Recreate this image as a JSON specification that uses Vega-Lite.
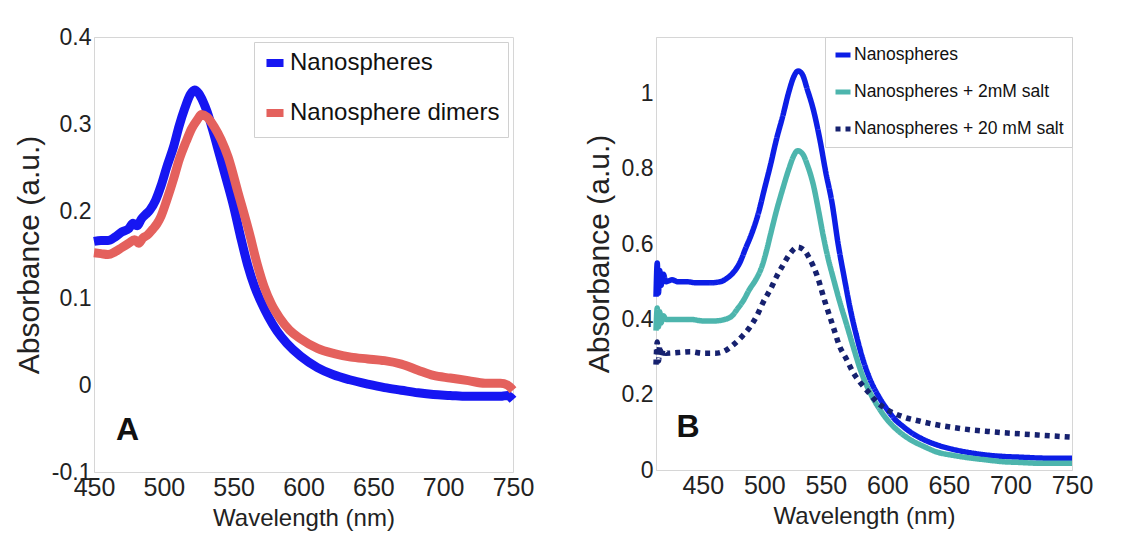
{
  "$schema": "https://vega.github.io/schema/vega-lite/v6.json",
  "background": "white",
  "padding": {"left": 13, "top": 25, "right": 5, "bottom": 5},
  "config": {
    "font": "Liberation Sans, sans-serif",
    "view": {"stroke": "#d6d6d6"},
    "axis": {
      "grid": false, "ticks": false, "domainColor": "#d6d6d6",
      "labelColor": "#222", "titleColor": "#222",
      "labelFont": "Liberation Sans, sans-serif",
      "titleFont": "Liberation Sans, sans-serif",
      "titleFontWeight": "normal", "labelOverlap": false, "labelPadding": 3, "labelFlush": false
    },
    "legend": {
      "labelFont": "Liberation Sans, sans-serif",
      "labelColor": "#111", "fillColor": "white", "strokeColor": "#d0d0d0",
      "symbolType": "stroke", "labelLimit": 500, "cornerRadius": 0
    }
  },
  "datasets": {
    "a": [
      {"nm": 450, "v": 0.165, "series": "Nanospheres"},
      {"nm": 455, "v": 0.166, "series": "Nanospheres"},
      {"nm": 460, "v": 0.166, "series": "Nanospheres"},
      {"nm": 465, "v": 0.170, "series": "Nanospheres"},
      {"nm": 470, "v": 0.176, "series": "Nanospheres"},
      {"nm": 475, "v": 0.180, "series": "Nanospheres"},
      {"nm": 478, "v": 0.186, "series": "Nanospheres"},
      {"nm": 481, "v": 0.183, "series": "Nanospheres"},
      {"nm": 484, "v": 0.191, "series": "Nanospheres"},
      {"nm": 487, "v": 0.196, "series": "Nanospheres"},
      {"nm": 490, "v": 0.201, "series": "Nanospheres"},
      {"nm": 494, "v": 0.212, "series": "Nanospheres"},
      {"nm": 498, "v": 0.229, "series": "Nanospheres"},
      {"nm": 502, "v": 0.250, "series": "Nanospheres"},
      {"nm": 507, "v": 0.274, "series": "Nanospheres"},
      {"nm": 511, "v": 0.298, "series": "Nanospheres"},
      {"nm": 515, "v": 0.318, "series": "Nanospheres"},
      {"nm": 519, "v": 0.334, "series": "Nanospheres"},
      {"nm": 522, "v": 0.339, "series": "Nanospheres"},
      {"nm": 525, "v": 0.335, "series": "Nanospheres"},
      {"nm": 528, "v": 0.326, "series": "Nanospheres"},
      {"nm": 531, "v": 0.314, "series": "Nanospheres"},
      {"nm": 535, "v": 0.293, "series": "Nanospheres"},
      {"nm": 540, "v": 0.264, "series": "Nanospheres"},
      {"nm": 545, "v": 0.235, "series": "Nanospheres"},
      {"nm": 550, "v": 0.205, "series": "Nanospheres"},
      {"nm": 555, "v": 0.170, "series": "Nanospheres"},
      {"nm": 560, "v": 0.138, "series": "Nanospheres"},
      {"nm": 565, "v": 0.113, "series": "Nanospheres"},
      {"nm": 570, "v": 0.094, "series": "Nanospheres"},
      {"nm": 575, "v": 0.078, "series": "Nanospheres"},
      {"nm": 581, "v": 0.062, "series": "Nanospheres"},
      {"nm": 588, "v": 0.048, "series": "Nanospheres"},
      {"nm": 598, "v": 0.033, "series": "Nanospheres"},
      {"nm": 610, "v": 0.020, "series": "Nanospheres"},
      {"nm": 621, "v": 0.012, "series": "Nanospheres"},
      {"nm": 633, "v": 0.006, "series": "Nanospheres"},
      {"nm": 646, "v": 0.001, "series": "Nanospheres"},
      {"nm": 658, "v": -0.003, "series": "Nanospheres"},
      {"nm": 670, "v": -0.006, "series": "Nanospheres"},
      {"nm": 682, "v": -0.009, "series": "Nanospheres"},
      {"nm": 693, "v": -0.011, "series": "Nanospheres"},
      {"nm": 705, "v": -0.012, "series": "Nanospheres"},
      {"nm": 717, "v": -0.013, "series": "Nanospheres"},
      {"nm": 729, "v": -0.013, "series": "Nanospheres"},
      {"nm": 741, "v": -0.013, "series": "Nanospheres"},
      {"nm": 746, "v": -0.012, "series": "Nanospheres"},
      {"nm": 750, "v": -0.017, "series": "Nanospheres"},
      {"nm": 450, "v": 0.152, "series": "Nanosphere dimers"},
      {"nm": 455, "v": 0.151, "series": "Nanosphere dimers"},
      {"nm": 460, "v": 0.150, "series": "Nanosphere dimers"},
      {"nm": 465, "v": 0.153, "series": "Nanosphere dimers"},
      {"nm": 470, "v": 0.158, "series": "Nanosphere dimers"},
      {"nm": 475, "v": 0.163, "series": "Nanosphere dimers"},
      {"nm": 479, "v": 0.167, "series": "Nanosphere dimers"},
      {"nm": 482, "v": 0.163, "series": "Nanosphere dimers"},
      {"nm": 485, "v": 0.169, "series": "Nanosphere dimers"},
      {"nm": 488, "v": 0.172, "series": "Nanosphere dimers"},
      {"nm": 492, "v": 0.179, "series": "Nanosphere dimers"},
      {"nm": 495, "v": 0.185, "series": "Nanosphere dimers"},
      {"nm": 498, "v": 0.194, "series": "Nanosphere dimers"},
      {"nm": 502, "v": 0.212, "series": "Nanosphere dimers"},
      {"nm": 507, "v": 0.237, "series": "Nanosphere dimers"},
      {"nm": 511, "v": 0.259, "series": "Nanosphere dimers"},
      {"nm": 516, "v": 0.280, "series": "Nanosphere dimers"},
      {"nm": 520, "v": 0.295, "series": "Nanosphere dimers"},
      {"nm": 524, "v": 0.305, "series": "Nanosphere dimers"},
      {"nm": 527, "v": 0.311, "series": "Nanosphere dimers"},
      {"nm": 531, "v": 0.308, "series": "Nanosphere dimers"},
      {"nm": 536, "v": 0.297, "series": "Nanosphere dimers"},
      {"nm": 541, "v": 0.282, "series": "Nanosphere dimers"},
      {"nm": 546, "v": 0.262, "series": "Nanosphere dimers"},
      {"nm": 553, "v": 0.222, "series": "Nanosphere dimers"},
      {"nm": 561, "v": 0.176, "series": "Nanosphere dimers"},
      {"nm": 567, "v": 0.138, "series": "Nanosphere dimers"},
      {"nm": 572, "v": 0.112, "series": "Nanosphere dimers"},
      {"nm": 577, "v": 0.093, "series": "Nanosphere dimers"},
      {"nm": 583, "v": 0.077, "series": "Nanosphere dimers"},
      {"nm": 590, "v": 0.063, "series": "Nanosphere dimers"},
      {"nm": 598, "v": 0.053, "series": "Nanosphere dimers"},
      {"nm": 610, "v": 0.042, "series": "Nanosphere dimers"},
      {"nm": 622, "v": 0.036, "series": "Nanosphere dimers"},
      {"nm": 634, "v": 0.032, "series": "Nanosphere dimers"},
      {"nm": 646, "v": 0.030, "series": "Nanosphere dimers"},
      {"nm": 658, "v": 0.028, "series": "Nanosphere dimers"},
      {"nm": 670, "v": 0.024, "series": "Nanosphere dimers"},
      {"nm": 682, "v": 0.017, "series": "Nanosphere dimers"},
      {"nm": 693, "v": 0.011, "series": "Nanosphere dimers"},
      {"nm": 705, "v": 0.008, "series": "Nanosphere dimers"},
      {"nm": 718, "v": 0.005, "series": "Nanosphere dimers"},
      {"nm": 730, "v": 0.002, "series": "Nanosphere dimers"},
      {"nm": 741, "v": 0.002, "series": "Nanosphere dimers"},
      {"nm": 746, "v": 0.000, "series": "Nanosphere dimers"},
      {"nm": 750, "v": -0.006, "series": "Nanosphere dimers"}
    ],
    "b": [
      {"nm": 412, "v": 0.46, "series": "Nanospheres"},
      {"nm": 413, "v": 0.55, "series": "Nanospheres"},
      {"nm": 414, "v": 0.47, "series": "Nanospheres"},
      {"nm": 415, "v": 0.53, "series": "Nanospheres"},
      {"nm": 416, "v": 0.49, "series": "Nanospheres"},
      {"nm": 418, "v": 0.52, "series": "Nanospheres"},
      {"nm": 420, "v": 0.50, "series": "Nanospheres"},
      {"nm": 425, "v": 0.505, "series": "Nanospheres"},
      {"nm": 430, "v": 0.50, "series": "Nanospheres"},
      {"nm": 437, "v": 0.50, "series": "Nanospheres"},
      {"nm": 445, "v": 0.497, "series": "Nanospheres"},
      {"nm": 455, "v": 0.497, "series": "Nanospheres"},
      {"nm": 464, "v": 0.50, "series": "Nanospheres"},
      {"nm": 470, "v": 0.51, "series": "Nanospheres"},
      {"nm": 475, "v": 0.525, "series": "Nanospheres"},
      {"nm": 480, "v": 0.55, "series": "Nanospheres"},
      {"nm": 485, "v": 0.59, "series": "Nanospheres"},
      {"nm": 490, "v": 0.63, "series": "Nanospheres"},
      {"nm": 495, "v": 0.68, "series": "Nanospheres"},
      {"nm": 500, "v": 0.745, "series": "Nanospheres"},
      {"nm": 505, "v": 0.81, "series": "Nanospheres"},
      {"nm": 510, "v": 0.88, "series": "Nanospheres"},
      {"nm": 515, "v": 0.94, "series": "Nanospheres"},
      {"nm": 520, "v": 1.005, "series": "Nanospheres"},
      {"nm": 524, "v": 1.045, "series": "Nanospheres"},
      {"nm": 527.5, "v": 1.06, "series": "Nanospheres"},
      {"nm": 531, "v": 1.05, "series": "Nanospheres"},
      {"nm": 535, "v": 1.01, "series": "Nanospheres"},
      {"nm": 540, "v": 0.955, "series": "Nanospheres"},
      {"nm": 545, "v": 0.88, "series": "Nanospheres"},
      {"nm": 550, "v": 0.79, "series": "Nanospheres"},
      {"nm": 555, "v": 0.71, "series": "Nanospheres"},
      {"nm": 560, "v": 0.60, "series": "Nanospheres"},
      {"nm": 565, "v": 0.51, "series": "Nanospheres"},
      {"nm": 570, "v": 0.425, "series": "Nanospheres"},
      {"nm": 575, "v": 0.355, "series": "Nanospheres"},
      {"nm": 580, "v": 0.295, "series": "Nanospheres"},
      {"nm": 586, "v": 0.24, "series": "Nanospheres"},
      {"nm": 593, "v": 0.195, "series": "Nanospheres"},
      {"nm": 600, "v": 0.16, "series": "Nanospheres"},
      {"nm": 606, "v": 0.135, "series": "Nanospheres"},
      {"nm": 613, "v": 0.115, "series": "Nanospheres"},
      {"nm": 620, "v": 0.098, "series": "Nanospheres"},
      {"nm": 630, "v": 0.080, "series": "Nanospheres"},
      {"nm": 640, "v": 0.067, "series": "Nanospheres"},
      {"nm": 653, "v": 0.055, "series": "Nanospheres"},
      {"nm": 667, "v": 0.046, "series": "Nanospheres"},
      {"nm": 680, "v": 0.040, "series": "Nanospheres"},
      {"nm": 694, "v": 0.036, "series": "Nanospheres"},
      {"nm": 708, "v": 0.034, "series": "Nanospheres"},
      {"nm": 722, "v": 0.032, "series": "Nanospheres"},
      {"nm": 736, "v": 0.031, "series": "Nanospheres"},
      {"nm": 750, "v": 0.031, "series": "Nanospheres"},
      {"nm": 412, "v": 0.37, "series": "Nanospheres + 2mM salt"},
      {"nm": 413, "v": 0.43, "series": "Nanospheres + 2mM salt"},
      {"nm": 414, "v": 0.38, "series": "Nanospheres + 2mM salt"},
      {"nm": 415, "v": 0.42, "series": "Nanospheres + 2mM salt"},
      {"nm": 416, "v": 0.39, "series": "Nanospheres + 2mM salt"},
      {"nm": 418, "v": 0.41, "series": "Nanospheres + 2mM salt"},
      {"nm": 420, "v": 0.40, "series": "Nanospheres + 2mM salt"},
      {"nm": 430, "v": 0.40, "series": "Nanospheres + 2mM salt"},
      {"nm": 440, "v": 0.40, "series": "Nanospheres + 2mM salt"},
      {"nm": 450, "v": 0.396, "series": "Nanospheres + 2mM salt"},
      {"nm": 460, "v": 0.396, "series": "Nanospheres + 2mM salt"},
      {"nm": 468, "v": 0.40, "series": "Nanospheres + 2mM salt"},
      {"nm": 474, "v": 0.41, "series": "Nanospheres + 2mM salt"},
      {"nm": 478, "v": 0.427, "series": "Nanospheres + 2mM salt"},
      {"nm": 483, "v": 0.45, "series": "Nanospheres + 2mM salt"},
      {"nm": 488, "v": 0.48, "series": "Nanospheres + 2mM salt"},
      {"nm": 493, "v": 0.505, "series": "Nanospheres + 2mM salt"},
      {"nm": 498, "v": 0.54, "series": "Nanospheres + 2mM salt"},
      {"nm": 502, "v": 0.585, "series": "Nanospheres + 2mM salt"},
      {"nm": 505, "v": 0.625, "series": "Nanospheres + 2mM salt"},
      {"nm": 510, "v": 0.69, "series": "Nanospheres + 2mM salt"},
      {"nm": 515, "v": 0.747, "series": "Nanospheres + 2mM salt"},
      {"nm": 520, "v": 0.80, "series": "Nanospheres + 2mM salt"},
      {"nm": 524, "v": 0.835, "series": "Nanospheres + 2mM salt"},
      {"nm": 527, "v": 0.848, "series": "Nanospheres + 2mM salt"},
      {"nm": 531, "v": 0.84, "series": "Nanospheres + 2mM salt"},
      {"nm": 535, "v": 0.81, "series": "Nanospheres + 2mM salt"},
      {"nm": 540, "v": 0.755, "series": "Nanospheres + 2mM salt"},
      {"nm": 544, "v": 0.69, "series": "Nanospheres + 2mM salt"},
      {"nm": 548, "v": 0.62, "series": "Nanospheres + 2mM salt"},
      {"nm": 552, "v": 0.56, "series": "Nanospheres + 2mM salt"},
      {"nm": 556, "v": 0.51, "series": "Nanospheres + 2mM salt"},
      {"nm": 561, "v": 0.45, "series": "Nanospheres + 2mM salt"},
      {"nm": 567, "v": 0.385, "series": "Nanospheres + 2mM salt"},
      {"nm": 572, "v": 0.33, "series": "Nanospheres + 2mM salt"},
      {"nm": 578, "v": 0.267, "series": "Nanospheres + 2mM salt"},
      {"nm": 586, "v": 0.205, "series": "Nanospheres + 2mM salt"},
      {"nm": 593, "v": 0.165, "series": "Nanospheres + 2mM salt"},
      {"nm": 600, "v": 0.133, "series": "Nanospheres + 2mM salt"},
      {"nm": 606, "v": 0.112, "series": "Nanospheres + 2mM salt"},
      {"nm": 613, "v": 0.093, "series": "Nanospheres + 2mM salt"},
      {"nm": 620, "v": 0.078, "series": "Nanospheres + 2mM salt"},
      {"nm": 630, "v": 0.062, "series": "Nanospheres + 2mM salt"},
      {"nm": 640, "v": 0.048, "series": "Nanospheres + 2mM salt"},
      {"nm": 653, "v": 0.039, "series": "Nanospheres + 2mM salt"},
      {"nm": 667, "v": 0.032, "series": "Nanospheres + 2mM salt"},
      {"nm": 680, "v": 0.027, "series": "Nanospheres + 2mM salt"},
      {"nm": 694, "v": 0.022, "series": "Nanospheres + 2mM salt"},
      {"nm": 708, "v": 0.020, "series": "Nanospheres + 2mM salt"},
      {"nm": 722, "v": 0.018, "series": "Nanospheres + 2mM salt"},
      {"nm": 736, "v": 0.018, "series": "Nanospheres + 2mM salt"},
      {"nm": 750, "v": 0.018, "series": "Nanospheres + 2mM salt"},
      {"nm": 412, "v": 0.28, "series": "Nanospheres + 20 mM salt"},
      {"nm": 413, "v": 0.34, "series": "Nanospheres + 20 mM salt"},
      {"nm": 414, "v": 0.29, "series": "Nanospheres + 20 mM salt"},
      {"nm": 415, "v": 0.33, "series": "Nanospheres + 20 mM salt"},
      {"nm": 416, "v": 0.30, "series": "Nanospheres + 20 mM salt"},
      {"nm": 418, "v": 0.32, "series": "Nanospheres + 20 mM salt"},
      {"nm": 420, "v": 0.31, "series": "Nanospheres + 20 mM salt"},
      {"nm": 430, "v": 0.312, "series": "Nanospheres + 20 mM salt"},
      {"nm": 440, "v": 0.314, "series": "Nanospheres + 20 mM salt"},
      {"nm": 450, "v": 0.31, "series": "Nanospheres + 20 mM salt"},
      {"nm": 460, "v": 0.31, "series": "Nanospheres + 20 mM salt"},
      {"nm": 467, "v": 0.315, "series": "Nanospheres + 20 mM salt"},
      {"nm": 475, "v": 0.333, "series": "Nanospheres + 20 mM salt"},
      {"nm": 482, "v": 0.355, "series": "Nanospheres + 20 mM salt"},
      {"nm": 488, "v": 0.378, "series": "Nanospheres + 20 mM salt"},
      {"nm": 494, "v": 0.41, "series": "Nanospheres + 20 mM salt"},
      {"nm": 499, "v": 0.445, "series": "Nanospheres + 20 mM salt"},
      {"nm": 505, "v": 0.48, "series": "Nanospheres + 20 mM salt"},
      {"nm": 510, "v": 0.514, "series": "Nanospheres + 20 mM salt"},
      {"nm": 515, "v": 0.543, "series": "Nanospheres + 20 mM salt"},
      {"nm": 521, "v": 0.575, "series": "Nanospheres + 20 mM salt"},
      {"nm": 527, "v": 0.592, "series": "Nanospheres + 20 mM salt"},
      {"nm": 532, "v": 0.585, "series": "Nanospheres + 20 mM salt"},
      {"nm": 537, "v": 0.56, "series": "Nanospheres + 20 mM salt"},
      {"nm": 543, "v": 0.515, "series": "Nanospheres + 20 mM salt"},
      {"nm": 549, "v": 0.45, "series": "Nanospheres + 20 mM salt"},
      {"nm": 556, "v": 0.38, "series": "Nanospheres + 20 mM salt"},
      {"nm": 561, "v": 0.33, "series": "Nanospheres + 20 mM salt"},
      {"nm": 567, "v": 0.293, "series": "Nanospheres + 20 mM salt"},
      {"nm": 572, "v": 0.26, "series": "Nanospheres + 20 mM salt"},
      {"nm": 578, "v": 0.232, "series": "Nanospheres + 20 mM salt"},
      {"nm": 585, "v": 0.205, "series": "Nanospheres + 20 mM salt"},
      {"nm": 591, "v": 0.182, "series": "Nanospheres + 20 mM salt"},
      {"nm": 600, "v": 0.16, "series": "Nanospheres + 20 mM salt"},
      {"nm": 613, "v": 0.141, "series": "Nanospheres + 20 mM salt"},
      {"nm": 626, "v": 0.13, "series": "Nanospheres + 20 mM salt"},
      {"nm": 640, "v": 0.12, "series": "Nanospheres + 20 mM salt"},
      {"nm": 653, "v": 0.113, "series": "Nanospheres + 20 mM salt"},
      {"nm": 667, "v": 0.107, "series": "Nanospheres + 20 mM salt"},
      {"nm": 680, "v": 0.103, "series": "Nanospheres + 20 mM salt"},
      {"nm": 694, "v": 0.099, "series": "Nanospheres + 20 mM salt"},
      {"nm": 708, "v": 0.096, "series": "Nanospheres + 20 mM salt"},
      {"nm": 722, "v": 0.093, "series": "Nanospheres + 20 mM salt"},
      {"nm": 736, "v": 0.090, "series": "Nanospheres + 20 mM salt"},
      {"nm": 750, "v": 0.087, "series": "Nanospheres + 20 mM salt"}
    ]
  },
  "spacing": 48,
  "hconcat": [
    {
      "width": 419,
      "height": 435,
      "layer": [
        {
          "data": {"name": "a"},
          "mark": {"type": "line", "strokeWidth": 9, "interpolate": "monotone"},
          "encoding": {
            "x": {"field": "nm", "type": "quantitative", "scale": {"domain": [450, 750], "nice": false, "zero": false},
                  "axis": {"values": [450, 500, 550, 600, 650, 700, 750], "title": "Wavelength (nm)", "labelFontSize": 25, "titleFontSize": 24, "titlePadding": 6}},
            "y": {"field": "v", "type": "quantitative", "scale": {"domain": [-0.1, 0.4], "nice": false, "zero": false},
                  "axis": {"values": [-0.1, 0, 0.1, 0.2, 0.3, 0.4], "labelExpr": "'' + round(datum.value*10)/10", "title": "Absorbance (a.u.)", "titleFontSize": 30, "labelFontSize": 23, "titlePadding": 7}},
            "color": {"field": "series", "type": "nominal",
                      "scale": {"domain": ["Nanospheres", "Nanosphere dimers"], "range": ["#1616f2", "#e4615d"]},
                      "legend": {"title": null, "orient": "top-right", "offset": 5, "padding": 8, "symbolStrokeWidth": 8, "symbolSize": 290, "labelFontSize": 24, "rowPadding": 18, "labelOffset": 2}}
          }
        },
        {
          "data": {"values": [{"nm": 474, "v": -0.052, "label": "A"}]},
          "mark": {"type": "text", "fontSize": 32, "fontWeight": "bold", "color": "#111"},
          "encoding": {
            "x": {"field": "nm", "type": "quantitative"},
            "y": {"field": "v", "type": "quantitative"},
            "text": {"field": "label"}
          }
        }
      ]
    },
    {
      "width": 416,
      "height": 433,
      "layer": [
        {
          "data": {"name": "b"},
          "mark": {"type": "line", "strokeWidth": 5.5, "interpolate": "monotone"},
          "encoding": {
            "x": {"field": "nm", "type": "quantitative", "scale": {"domain": [412, 750], "nice": false, "zero": false},
                  "axis": {"values": [450, 500, 550, 600, 650, 700, 750], "title": "Wavelength (nm)", "labelFontSize": 25, "titleFontSize": 24, "titlePadding": 6}},
            "y": {"field": "v", "type": "quantitative", "scale": {"domain": [0, 1.15], "nice": false, "zero": false},
                  "axis": {"values": [0, 0.2, 0.4, 0.6, 0.8, 1], "labelExpr": "'' + round(datum.value*10)/10", "title": "Absorbance (a.u.)", "titleFontSize": 30, "labelFontSize": 23, "titlePadding": 7}},
            "color": {"field": "series", "type": "nominal",
                      "scale": {"domain": ["Nanospheres", "Nanospheres + 2mM salt", "Nanospheres + 20 mM salt"], "range": ["#0c1ee6", "#4db5ad", "#16216f"]},
                      "legend": {"title": null, "orient": "top-right", "offset": 0, "padding": 8, "symbolStrokeWidth": 5, "symbolSize": 225, "labelFontSize": 17.5, "rowPadding": 17, "labelOffset": 1}},
            "strokeDash": {"field": "series", "type": "nominal",
                      "scale": {"domain": ["Nanospheres", "Nanospheres + 2mM salt", "Nanospheres + 20 mM salt"], "range": [[1, 0], [1, 0], [5, 5]]},
                      "legend": {"title": null, "orient": "top-right", "offset": 0, "padding": 8, "symbolStrokeWidth": 5, "symbolSize": 225, "labelFontSize": 17.5, "rowPadding": 17, "labelOffset": 1}}
          }
        },
        {
          "data": {"values": [{"nm": 438, "v": 0.115, "label": "B"}]},
          "mark": {"type": "text", "fontSize": 32, "fontWeight": "bold", "color": "#111"},
          "encoding": {
            "x": {"field": "nm", "type": "quantitative"},
            "y": {"field": "v", "type": "quantitative"},
            "text": {"field": "label"}
          }
        }
      ]
    }
  ],
  "resolve": {"scale": {"color": "independent", "strokeDash": "independent", "x": "independent", "y": "independent"}, "legend": {"color": "independent", "strokeDash": "independent"}}
}
